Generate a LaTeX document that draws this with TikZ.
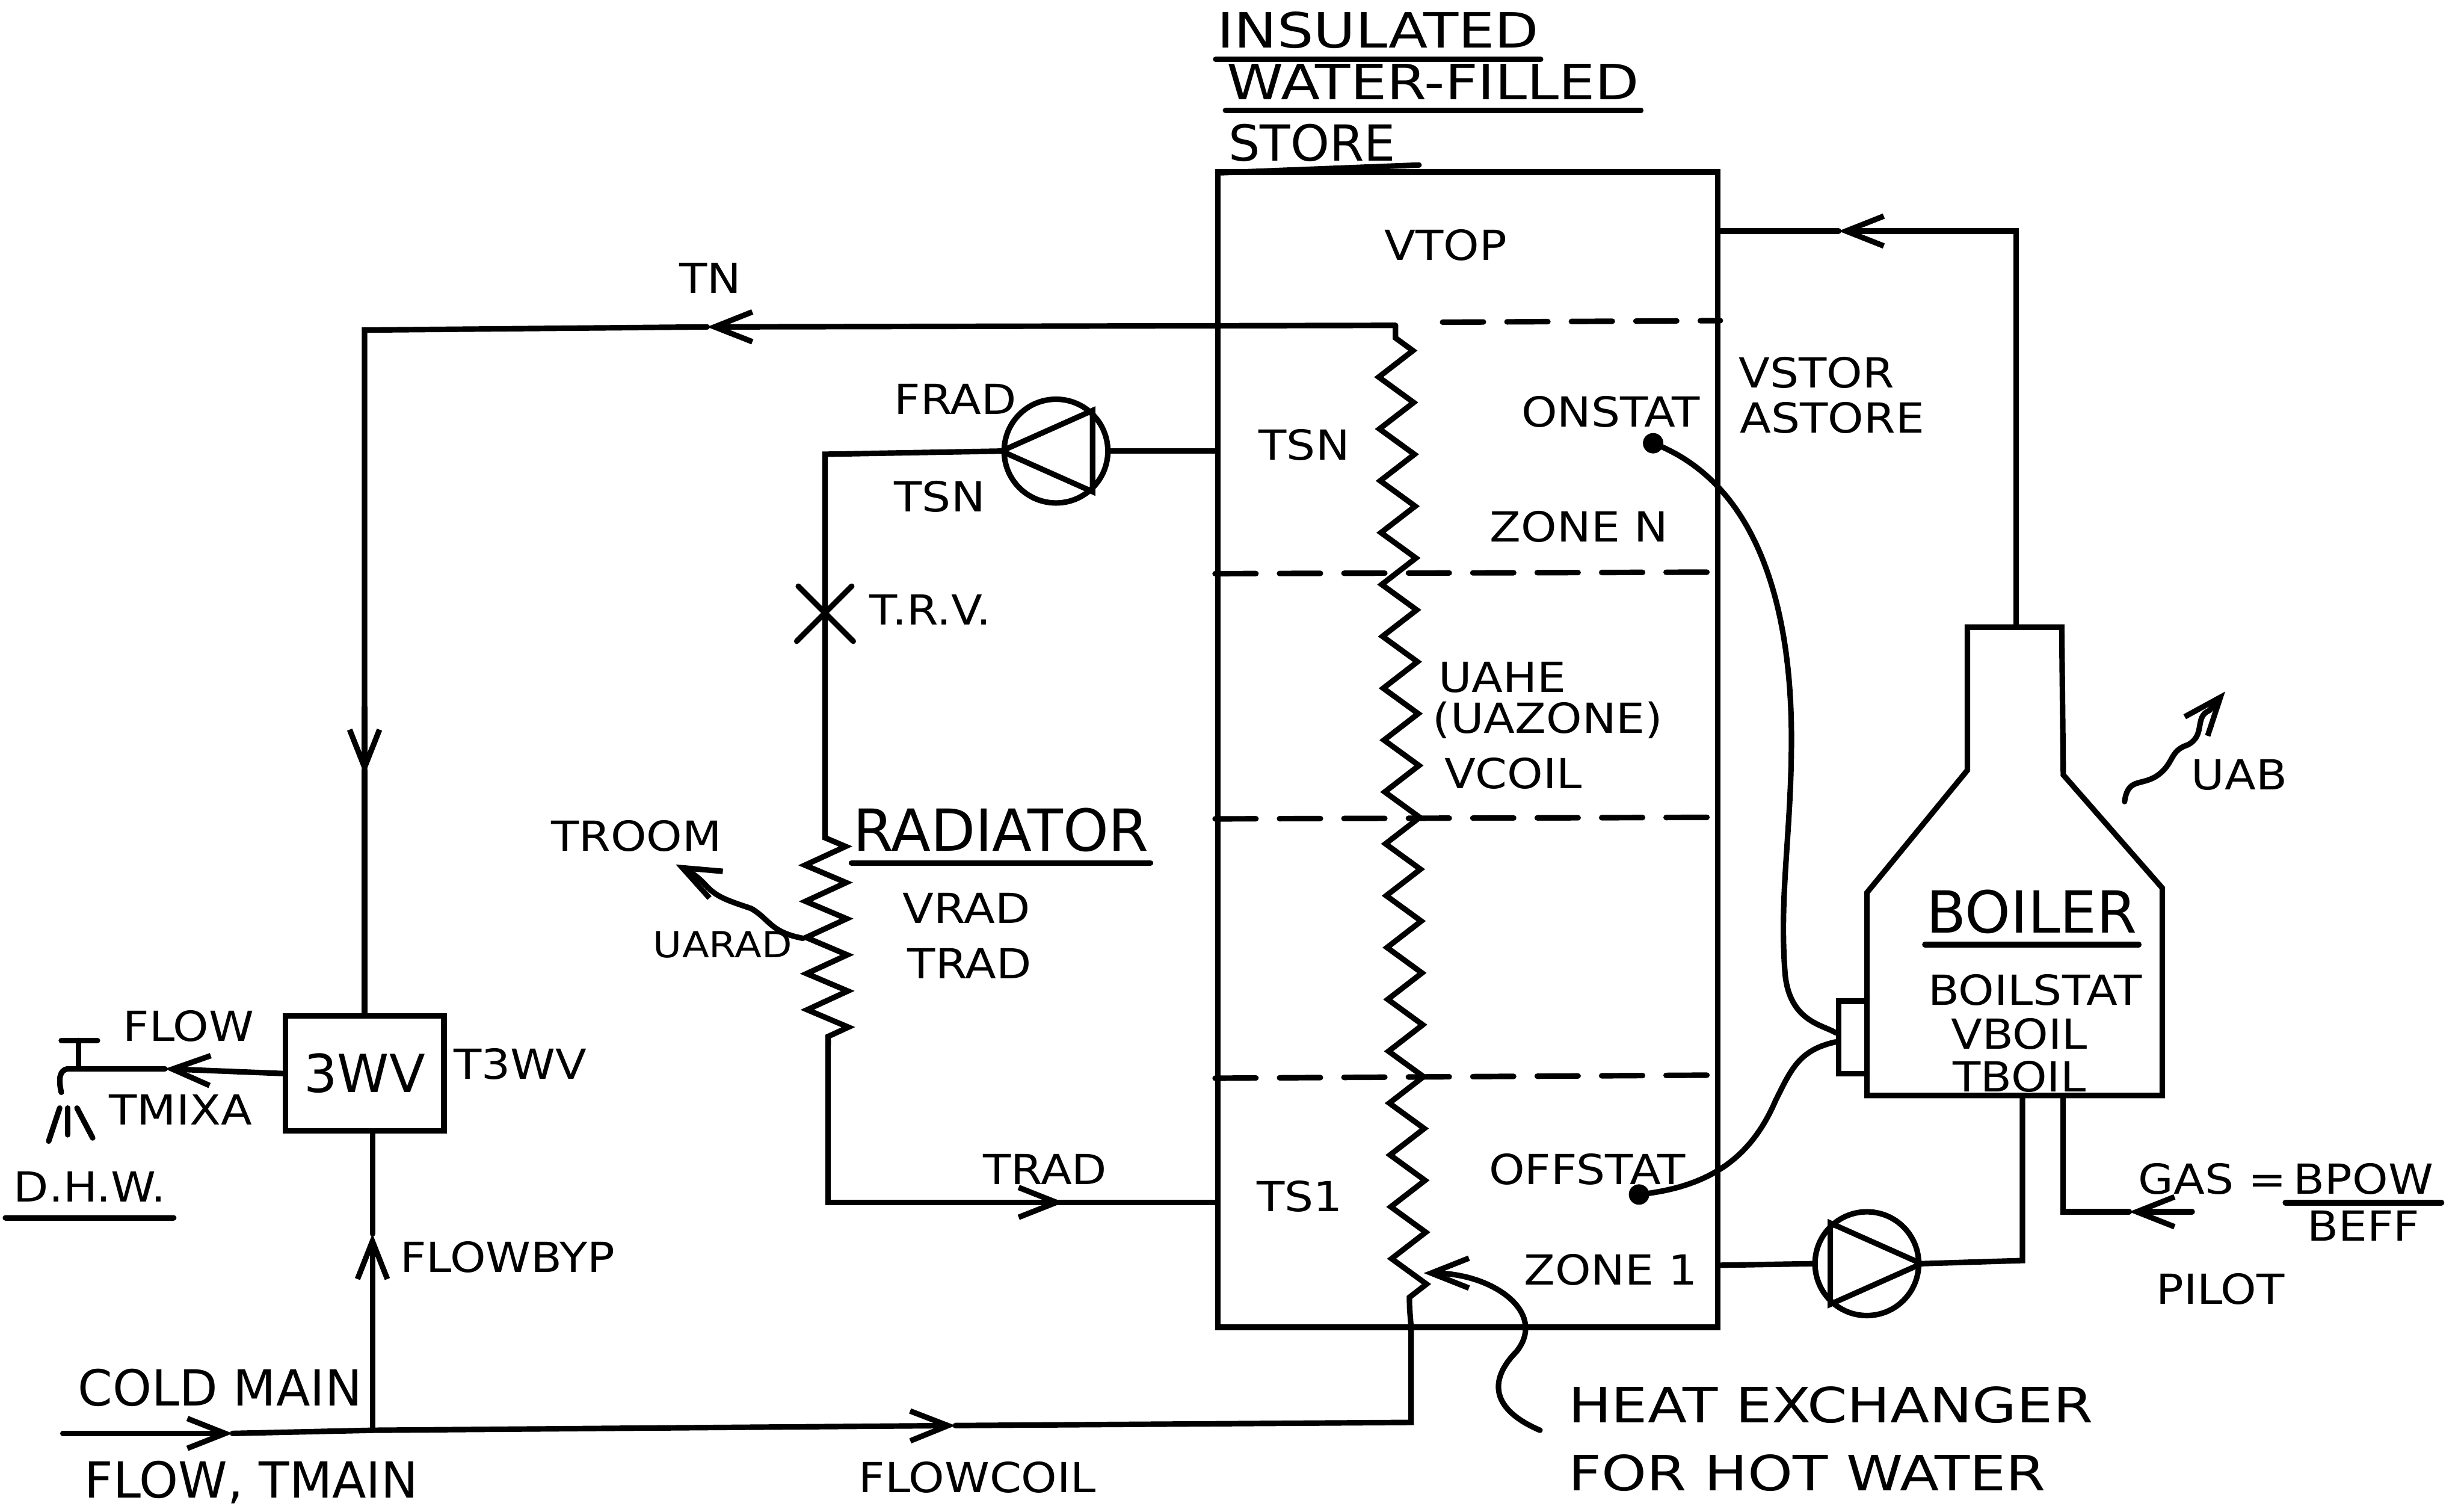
\documentclass[tikz,border=0pt]{standalone}
\usepackage{fontspec}
\setmainfont{DejaVu Sans}
\usetikzlibrary{arrows.meta,decorations.pathmorphing}

\begin{document}
\begin{tikzpicture}[
  x=0.1mm,y=-0.1mm,
  line width=1pt,
  line cap=round,
  >={Straight Barb[length=2.4mm,width=1.9mm]},
  lab/.style={inner sep=1pt,font=\fontsize{7.5}{9}\selectfont\addfontfeature{FakeStretch=1.1}},
  mid/.style={inner sep=1.5pt,font=\fontsize{9}{10}\selectfont},
  wide/.style={inner sep=1.5pt,font=\fontsize{8.8}{10}\selectfont\addfontfeature{FakeStretch=1.18}},
  big/.style={inner sep=1.5pt,font=\fontsize{10.5}{12}\selectfont},
  pump/.style={draw,circle,minimum size=6.6mm,inner sep=0pt},
  ulin/.style={shorten <=0.6mm,shorten >=0.6mm},
  zone/.style={dash pattern=on 2.6mm off 1.5mm}]
\useasboundingbox (0,0) rectangle (1568,960);
% main boxes
\node[draw,minimum width=31.8mm,minimum height=73.5mm,inner sep=0pt] (store) at (934,477) {};
\node[draw,minimum width=10.1mm,minimum height=7.3mm,inner sep=0pt,font=\fontsize{9.5}{11}\selectfont] (valve) at (232,683) {3WV};
\node[draw,minimum width=1.8mm,minimum height=4.6mm,inner sep=0pt] (stat) at (1179,660) {};
\node[pump] (fradpump) at (672,287) {};
\node[pump] (boilpump) at (1188,804) {};
\coordinate (neck) at (1283,399);
\coordinate (ret) at (1287,697);
\coordinate (gas) at (1313,697);
\coordinate (coiltop) at (888,207);
\coordinate (coilbot) at (898,845);
\coordinate (radtop) at (525,530);
\coordinate (radbot) at (527,665);
\coordinate (tap) at (50,680);
\coordinate (mainin) at (40,912);
\coordinate (mainjoin) at (237,910);
% boiler
\draw (1252,399) -- (1312,399) -- (1313,493) -- (1376,565) -- (1376,697) -- (1188,697) -- (1188,568) -- (1252,490) -- cycle;
% store zones
\draw[zone] (918,205) -- (store.east |- 0,204);
\draw[zone] (store.west |- 0,365) -- (store.east |- 0,364);
\draw[zone] (store.west |- 0,521) -- (store.east |- 0,520);
\draw[zone] (store.west |- 0,686) -- (store.east |- 0,684);
% coils
\draw (coiltop) -- ++(0,8) decorate[decoration={zigzag,amplitude=1.1mm,segment length=3.3mm}] {-- (897,832)} -- (coilbot);
\draw (radtop) -- ++(0,3) decorate[decoration={zigzag,amplitude=1.3mm,segment length=2.3mm}] {-- (527,662)} -- (radbot);
% pumps
\draw (fradpump.180) -- (fradpump.48) -- (fradpump.-48) -- cycle;
\draw (boilpump.0) -- (boilpump.132) -- (boilpump.228) -- cycle;
% pipes
\draw[->] (coiltop) -- (450,208);
\draw (450,208) -- (232,210) -- (232,490);
\draw[->] (232,450) -- (232,493);
\draw (232,490) -- (valve.north -| 232,0);
\draw[->] (valve.west) -- (105,680);
\draw (105,680) -- (tap);
\draw[->] (neck) -- (1283,147) -- (1170,147);
\draw (1170,147) -- (store.east |- 0,147);
\draw (store.west |- 0,287) -- (fradpump.east);
\draw (fradpump.west) -- (525,289) -- (radtop);
\draw (radbot) -- (527,765) -- (675,765);
\draw[->] (600,765) -- (677,765);
\draw (675,765) -- (store.west |- 0,765);
\draw[->] (mainin) -- (148,912);
\draw (148,912) -- (mainjoin);
\draw[->] (mainjoin) -- (237,785);
\draw (237,785) -- (valve.south -| 237,0);
\draw[->] (mainjoin) -- (608,907);
\draw (608,907) -- (898,905) -- (coilbot);
\draw (store.east |- 0,805) -- (boilpump.west);
\draw (boilpump.east) -- (1287,802) -- (ret);
\draw[->] (1395,771) -- (1355,771);
\draw (1355,771) -- (1313,771) -- (gas);
% tap
\draw (39,662) -- (62,662);
\draw (50,662) -- (tap);
\draw (tap) -- (43,680) .. controls (38,681) and (37,686) .. (39,695);
\draw (31,726) -- (38,705);
\draw (43,705) -- (43,722);
\draw (49,705) -- (59,724);
% t.r.v.
\draw (508,373) -- (543,408);
\draw (542,373) -- (507,408);
% stats
\fill (1052,282) circle (0.65mm);
\fill (1043,760) circle (0.65mm);
\draw (1052,282) .. controls (1125,310) and (1140,400) .. (1140,470) .. controls (1140,530) and (1132,570) .. (1136,620) .. controls (1139,650) and (1160,652) .. (stat.165);
\draw (1043,760) .. controls (1090,755) and (1115,735) .. (1130,700) .. controls (1140,680) and (1145,668) .. (stat.195);
% heat paths
\draw[->] (1352,510) .. controls (1354,495) and (1362,500) .. (1372,494) .. controls (1384,486) and (1380,478) .. (1392,474) .. controls (1404,468) and (1396,456) .. (1406,452) -- (1416,440);
\draw[->] (511,597) .. controls (490,593) and (490,585) .. (478,578) .. controls (460,572) and (455,570) .. (448,562) .. controls (442,556) and (438,554) .. (430,550);
\draw[->] (980,910) .. controls (945,895) and (950,875) .. (965,860) .. controls (985,835) and (950,810) .. (906,810);
% labels
\node[wide] (title1) at (877,19) {INSULATED};
\node[wide] (title2) at (912,52) {WATER-FILLED};
\node[mid] (title3) at (835,91) {STORE};
\draw[ulin] (title1.south west) -- (title1.south east);
\draw[ulin] (title2.south west) -- (title2.south east);
\draw (title3.south west) -- (903,105);
\node[lab] (vtop) at (920,156) {VTOP};
\node[lab] (tnlab) at (452,177) {TN};
\node[lab] (fradlab) at (608,254) {FRAD};
\node[lab] (tsnpipe) at (598,316) {TSN};
\node[lab] (tsnstore) at (830,283) {TSN};
\node[lab] (onstat) at (1025,262) {ONSTAT};
\node[lab] (vstor) at (1156,237) {VSTOR};
\node[lab] (astore) at (1166,266) {ASTORE};
\node[lab] (zonen) at (1005,335) {ZONE N};
\node[lab] (trv) at (592,388) {T.R.V.};
\node[lab] (uahe) at (956,431) {UAHE};
\node[lab] (uazone) at (985,458) {(UAZONE)};
\node[lab] (vcoil) at (963,492) {VCOIL};
\node[lab] (uab) at (1425,493) {UAB};
\node[big] (radlab) at (637,528) {RADIATOR};
\draw[ulin] (radlab.south west) -- (radlab.south east);
\node[lab] (troom) at (405,532) {TROOM};
\node[lab] (vrad) at (615,578) {VRAD};
\node[lab] (tradlab) at (617,613) {TRAD};
\node[lab,font=\fontsize{6.5}{8}\selectfont\addfontfeature{FakeStretch=1.1}] (uarad) at (460,601) {UARAD};
\node[big] (boillab) at (1293,580) {BOILER};
\draw[ulin] (boillab.south west) -- (boillab.south east);
\node[lab] (boilstat) at (1295,630) {BOILSTAT};
\node[lab] (vboil) at (1285,658) {VBOIL};
\node[lab] (tboil) at (1285,685) {TBOIL};
\node[lab] (flowlab) at (120,653) {FLOW};
\node[lab] (t3wv) at (331,677) {T3WV};
\node[lab] (tmixa) at (115,706) {TMIXA};
\node[lab] (dhw) at (57,755) {D.H.W.};
\draw (dhw.south west) ++(0,5) -- ([yshift=-0.5mm]dhw.south east);
\node[lab] (tradpipe) at (665,744) {TRAD};
\node[lab] (ts1) at (827,761) {TS1};
\node[lab] (offstat) at (1010,744) {OFFSTAT};
\node[lab] (gaslab) at (1408,750) {GAS =};
\node[lab] (bpow) at (1504,750) {BPOW};
\draw (bpow.south west) -- (bpow.south east);
\node[lab] (beff) at (1504,780) {BEFF};
\node[lab] (pilot) at (1413,820) {PILOT};
\node[lab] (zone1) at (1025,808) {ZONE 1};
\node[lab] (flowbyp) at (323,800) {FLOWBYP};
\node[mid] (coldmain) at (140,883) {COLD MAIN};
\node[mid] (flowtmain) at (160,943) {FLOW, TMAIN};
\node[lab] (flowcoil) at (622,940) {FLOWCOIL};
\node[wide] (hx1) at (1165,894) {HEAT EXCHANGER};
\node[wide] (hx2) at (1150,937) {FOR HOT WATER};
\end{tikzpicture}
\end{document}
